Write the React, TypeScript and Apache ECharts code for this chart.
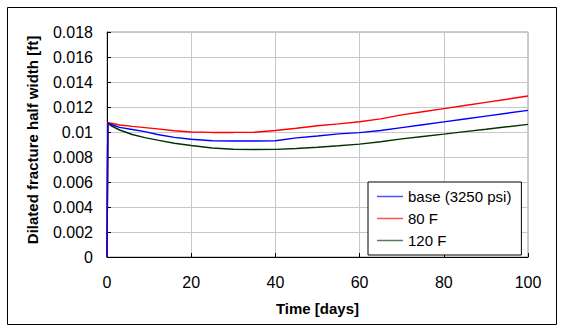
import React, { useEffect, useRef } from "react";
import * as echarts from "echarts";

const days = [0, 0.2, 1, 3, 6, 9, 12, 16, 20, 25, 30, 35, 40, 45, 50, 55, 60, 65, 70, 75, 80, 85, 90, 95, 100];
const baseVals = [0, 0.0107, 0.0106, 0.01037, 0.0102, 0.01003, 0.0098, 0.00957, 0.00942, 0.0093, 0.00928, 0.00928, 0.0093, 0.00953, 0.00968, 0.00985, 0.00995, 0.01012, 0.01035, 0.01058, 0.01081, 0.01104, 0.01127, 0.0115, 0.01173];
const f80Vals = [0, 0.01075, 0.0107, 0.01056, 0.01045, 0.01035, 0.01025, 0.0101, 0.01, 0.00997, 0.00997, 0.00998, 0.01012, 0.0103, 0.0105, 0.01065, 0.01082, 0.01105, 0.01137, 0.01162, 0.01187, 0.01212, 0.01237, 0.01262, 0.01288];
const f120Vals = [0, 0.0107, 0.0105, 0.01016, 0.0098, 0.00955, 0.00935, 0.0091, 0.00892, 0.00872, 0.00862, 0.0086, 0.00861, 0.00868, 0.00878, 0.0089, 0.00903, 0.00922, 0.00945, 0.00964, 0.00983, 0.01003, 0.01022, 0.01042, 0.01061];
const seriesNames = ["base (3250 psi)", "80 F", "120 F"];
const seriesColors = ["#0000ff", "#ff0000", "#003300"];
const legendColors = ["#5050ff", "#ff5050", "#5a7a5a"];

const FONT = "'Liberation Sans', Arial, sans-serif";

export default function App() {
  const ref = useRef<HTMLDivElement>(null);
  useEffect(() => {
    if (!ref.current) return;
    const chart = echarts.init(ref.current, undefined, { renderer: "svg" });
    const all = [baseVals, f80Vals, f120Vals];
    chart.setOption({
      animation: false,
      backgroundColor: "#ffffff",
      textStyle: { fontFamily: FONT },
      grid: {
        left: 107,
        top: 32,
        width: 421,
        height: 225,
        show: true,
        borderColor: "#999999",
        borderWidth: 1,
      },
      legend: {
        orient: "vertical",
        left: 368,
        top: 182,
        backgroundColor: "#ffffff",
        borderColor: "#000000",
        borderWidth: 1,
        borderRadius: 0,
        padding: [6, 10, 6, 9],
        itemWidth: 26,
        itemHeight: 1.5,
        itemGap: 5,
        textStyle: { fontFamily: FONT, fontSize: 15, color: "#000", lineHeight: 17 },
        data: seriesNames.map((n, i) => ({ name: n, icon: "rect", itemStyle: { color: legendColors[i] } })),
      },
      xAxis: {
        type: "value",
        min: 0,
        max: 100,
        interval: 20,
        name: "Time [days]",
        nameLocation: "middle",
        nameGap: 44,
        nameTextStyle: { fontFamily: FONT, fontSize: 15, fontWeight: "bold", color: "#000" },
        axisLine: { show: true, lineStyle: { color: "#000", width: 1 } },
        axisTick: { show: true, inside: true, length: 4, lineStyle: { color: "#000" } },
        axisLabel: { fontFamily: FONT, fontSize: 16, color: "#000", margin: 17 },
        splitLine: { show: true, lineStyle: { color: "#c8c8c8", width: 1 } },
      },
      yAxis: {
        type: "value",
        min: 0,
        max: 0.018,
        interval: 0.002,
        axisLine: { show: true, lineStyle: { color: "#000", width: 1 } },
        axisTick: { show: true, inside: true, length: 4, lineStyle: { color: "#000" } },
        axisLabel: {
          fontFamily: FONT,
          fontSize: 16,
          color: "#000",
          margin: 14,
          formatter: (v: number) => String(parseFloat(v.toFixed(4))),
        },
        splitLine: { show: true, lineStyle: { color: "#c8c8c8", width: 1 } },
      },
      graphic: [
        {
          type: "rect",
          shape: { x: 7.5, y: 7.5, width: 549, height: 317 },
          style: { fill: "none", stroke: "#000", lineWidth: 1 },
          silent: true,
          z: -10,
        },
        {
          type: "text",
          x: 32,
          y: 140,
          rotation: Math.PI / 2,
          style: {
            text: "Dilated fracture half width [ft]",
            font: `bold 15px ${FONT}`,
            fill: "#000",
            align: "center",
            verticalAlign: "middle",
          },
        },
      ],
      series: seriesNames.map((n, i) => ({
        name: n,
        type: "line",
        showSymbol: false,
        symbol: "none",
        color: seriesColors[i],
        lineStyle: { color: seriesColors[i], width: 1.5 },
        data: days.map((d, j) => [d, all[i][j]]),
        z: 3 - i,
      })),
    });
    return () => chart.dispose();
  }, []);
  return <div ref={ref} style={{ position: "fixed", left: 0, top: 0, width: 565, height: 333 }} />;
}
